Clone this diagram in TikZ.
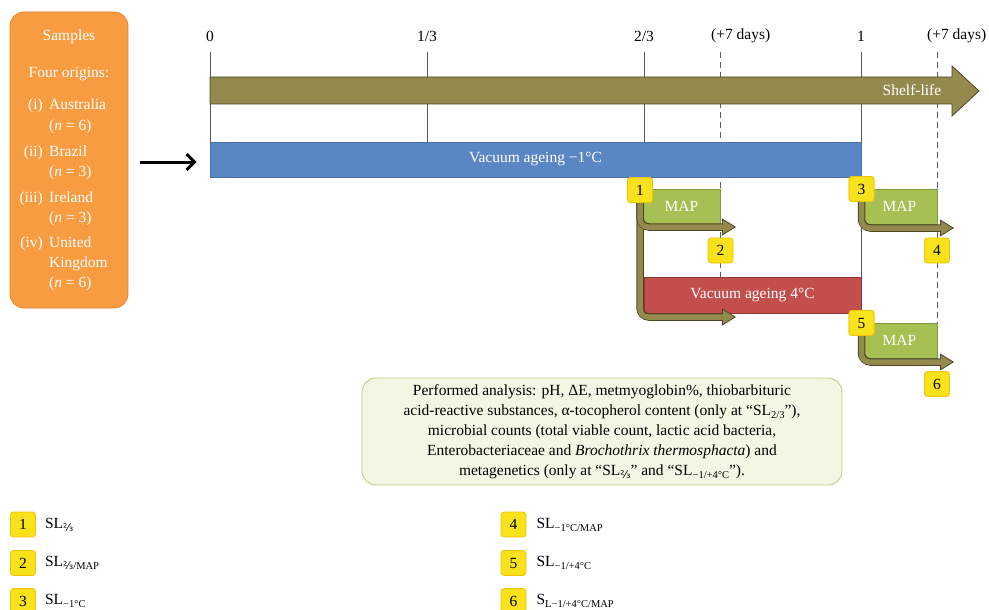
\documentclass[tikz,border=0pt]{standalone}
\usepackage{fontspec}
\setmainfont{Liberation Serif}
\newfontfamily\fracfont{DejaVu Sans}
\usetikzlibrary{arrows.meta,positioning}
\definecolor{Olive}{HTML}{948A4E}
\definecolor{OliveDark}{HTML}{4B4526}
\definecolor{Orange}{HTML}{F89C42}
\definecolor{OrangeDark}{HTML}{E3862E}
\definecolor{Blue}{HTML}{5A87C3}
\definecolor{BlueDark}{HTML}{4A72A8}
\definecolor{Red}{HTML}{C24F4B}
\definecolor{RedDark}{HTML}{8E3532}
\definecolor{Green}{HTML}{A7C054}
\definecolor{GreenDark}{HTML}{7E9838}
\definecolor{Yellow}{HTML}{F7E21B}
\definecolor{YellowDark}{HTML}{EFC10A}
\definecolor{SoftGreen}{HTML}{F2F6E3}
\definecolor{LineGreen}{HTML}{BFD07E}
\definecolor{Muted}{HTML}{595959}
\newcommand{\bigfs}{\fontsize{15.5}{20}\selectfont}
\newcommand{\lsub}[1]{\raisebox{-0.45ex}{\fontsize{10.5}{11}\selectfont #1}}
\newcommand{\twothirds}{{\fracfont ⅔}}

\begin{document}
\begin{tikzpicture}[x=1pt,y=-1pt,
  every node/.style={font=\bigfs},
  whitetxt/.style={text=white,inner sep=0pt},
  samplebox/.style={rounded corners=14pt,draw=OrangeDark,fill=Orange,line width=0.8pt,minimum width=118pt,minimum height=296pt},
  bar/.style={draw=#1Dark,fill=#1,line width=0.6pt,minimum height=35pt,inner sep=0pt,text=white},
  tick/.style={draw=Muted,line width=0.6pt},
  dashtick/.style={tick,dash pattern=on 6pt off 4pt},
  shelfarrow/.style={draw=OliveDark,fill=Olive,line width=0.8pt},
  samparrow/.style={-{Straight Barb[length=8pt,width=16pt]},line width=3pt,shorten <=12pt,shorten >=13pt},
  lpath/.style={draw=OliveDark,line width=7.5pt,rounded corners=9pt,-{Triangle[length=14pt,width=17pt,line width=0.8pt,fill=Olive]}},
  lpathin/.style={draw=Olive,line width=5.5pt,rounded corners=8pt,shorten >=13pt},
  badge/.style={draw=YellowDark,fill=Yellow,rounded corners=3pt,line width=0.8pt,minimum size=25pt,inner sep=0pt},
  legtxt/.style={inner sep=0pt,text height=11pt,text depth=4pt},
  anabox/.style={rounded corners=14pt,draw=LineGreen,fill=SoftGreen,line width=0.9pt,minimum width=480pt,minimum height=107pt,align=center,font=\fontsize{15.5}{20}\selectfont}
]
\useasboundingbox (0,0) rectangle (989,610);

% samples
\node[samplebox] (samples) at (69,160) {};
\node[whitetxt] (smp) at (69,37) {Samples};
\node[whitetxt] (four) at (69,74) {Four origins:};
\foreach \y/\num/\txt in {110/(i)/Australia,156/(ii)/Brazil,202/(iii)/Ireland,247/(iv)/United} {
  \node[whitetxt,anchor=base east] (num\y) at (43,\y) {\num};
  \node[whitetxt,anchor=base west] (org\y) at (49,\y) {\txt};
}
\foreach \y/\txt in {130/{(\textit{n} = 6)},176/{(\textit{n} = 3)},222/{(\textit{n} = 3)},267/Kingdom,287/{(\textit{n} = 6)}}
  \node[whitetxt,anchor=base west] (sub\y) at (49,\y) {\txt};

% time axis
\node (t0) at (210,36) {0};
\node (t13) at (427,36) {1/3};
\node (t23) at (644,36) {2/3};
\node[anchor=west,inner sep=0pt] (t23p) at (711,36) {(+7 days)};
\node (t1) at (861,36) {1};
\node[anchor=west,inner sep=0pt] (t1p) at (927,36) {(+7 days)};
\foreach \x in {210,427,644}
  \draw[tick] (\x,52) -- (\x,142);
\draw[tick] (861,52) -- (861,277);
\draw[dashtick] (720,52) -- (720,277);
\draw[dashtick] (937,52) -- (937,323);

\draw[shelfarrow] (210,77) -- (952,77) -- (952,66) -- (979,91) -- (952,116) -- (952,104) -- (210,104) -- cycle;
\node[whitetxt] (shelf) at (912,90) {Shelf-life};

% storage
\node[bar=Blue,minimum width=651pt] (vac) at (535.5,159.5) {Vacuum ageing −1°C};
\node[bar=Red,minimum width=217pt,minimum height=36pt] (vac4) at (752.5,295) {Vacuum ageing 4°C};
\node[bar=Green,minimum width=77pt] (map1) at (681.5,206.5) {MAP};
\node[bar=Green,minimum width=75pt] (map2) at (899.5,206.5) {MAP};
\node[bar=Green,minimum width=75pt] (map3) at (899.5,340.5) {MAP};

\draw[samparrow] ([yshift=-2pt]samples.east) -- ([yshift=-2.5pt]vac.west);

\coordinate (e2) at (736,227);
\coordinate (e5) at (736,317);
\coordinate (e4) at (954,228);
\coordinate (e6) at (954,362);
\node[badge] (b1) at (640,190) {1};
\node[badge] (b3) at (861.5,189) {3};
\node[badge] (b5) at (861.5,323) {5};
\foreach \b/\e in {b1/e5,b1/e2,b3/e4,b5/e6} {
  \draw[lpath] (\b.center) |- (\e);
  \draw[lpathin] (\b.center) |- (\e);
}
\node[badge] (b1) at (640,190) {1};
\node[badge] (b3) at (861.5,189) {3};
\node[badge] (b5) at (861.5,323) {5};
\node[badge] (b2) at (720.5,250.5) {2};
\node[badge] (b4) at (937,250.5) {4};
\node[badge] (b6) at (937,384) {6};

% analysis
\node[anabox] (ana) at (602,431.5) {Performed analysis: pH, ΔE, metmyoglobin\%, thiobarbituric\\
acid-reactive substances, α-tocopherol content (only at “SL\lsub{2/3}”),\\
microbial counts (total viable count, lactic acid bacteria,\\
Enterobacteriaceae and \textit{Brochothrix thermosphacta}) and\\
metagenetics (only at “SL\lsub{\twothirds}” and “SL\lsub{−1/+4°C}”).};

% legend
\node[badge] (lg1) at (23,524.5) {1};
\node[badge] (lg2) at (23,563) {2};
\node[badge] (lg3) at (23,601) {3};
\node[badge] (lg4) at (513.5,524.5) {4};
\node[badge] (lg5) at (513.5,563) {5};
\node[badge] (lg6) at (513.5,601) {6};
\node[legtxt,right=9pt of lg1] (lt1) {SL\lsub{\twothirds}};
\node[legtxt,right=9pt of lg2] (lt2) {SL\lsub{\twothirds/MAP}};
\node[legtxt,right=9pt of lg3] (lt3) {SL\lsub{−1°C}};
\node[legtxt,right=10pt of lg4] (lt4) {SL\lsub{−1°C/MAP}};
\node[legtxt,right=10pt of lg5] (lt5) {SL\lsub{−1/+4°C}};
\node[legtxt,right=10pt of lg6] (lt6) {S\lsub{L−1/+4°C/MAP}};
\end{tikzpicture}
\end{document}
